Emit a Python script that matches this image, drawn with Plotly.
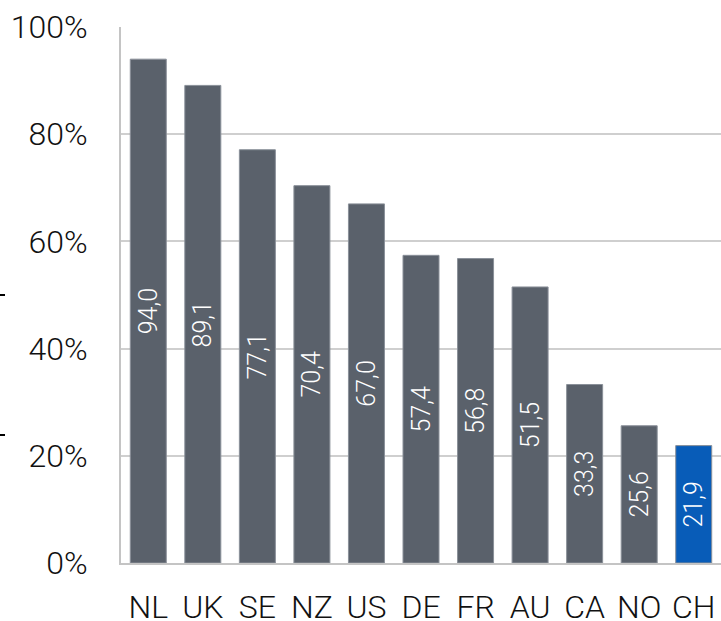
import plotly.graph_objects as go

countries = ["NL", "UK", "SE", "NZ", "US", "DE", "FR", "AU", "CA", "NO", "CH"]
values = [94.0, 89.1, 77.1, 70.4, 67.0, 57.4, 56.8, 51.5, 33.3, 25.6, 21.9]
tick_vals = [0, 20, 40, 60, 80, 100]
tick_text = ["0%", "20%", "40%", "60%", "80%", "100%"]

GRAY = "#5a616b"
BLUE = "#085cb8"
colors = [BLUE if c == "CH" else GRAY for c in countries]
labels = [f"{v:.1f}".replace(".", ",") for v in values]

FONT = "Roboto Light, Roboto"

fig = go.Figure(go.Bar(
    x=countries, y=values, text=labels,
    marker=dict(color=colors, line=dict(color="#8a9099", width=1)),
    textposition="inside", insidetextanchor="middle", textangle=-90,
    textfont=dict(family=FONT, size=25, color="white", weight=300),
    cliponaxis=False,
))

fig.update_layout(
    width=721, height=621,
    margin=dict(l=121, r=0, t=27, b=58),
    paper_bgcolor="white", plot_bgcolor="white",
    bargap=0.34,
    showlegend=False,
    font=dict(family=FONT, size=32, color="#222222", weight=300),
    xaxis=dict(
        showline=True, linecolor="#c4c4c4", linewidth=2,
        showgrid=False, ticks="", ticklabelstandoff=15, automargin=False,
        tickfont=dict(family=FONT, size=32, color="#111111", weight=300),
    ),
    yaxis=dict(
        range=[0, 100], tickvals=tick_vals, ticktext=tick_text,
        showline=True, linecolor="#c4c4c4", linewidth=2,
        showgrid=True, gridcolor="#cfcfcf", gridwidth=2,
        zeroline=False, ticks="", ticklabelstandoff=25, automargin=False,
        tickfont=dict(family=FONT, size=32, color="#111111", weight=300),
    ),
    shapes=[
        dict(type="line", xref="paper", yref="paper",
             x0=-121/600, x1=-116/600, y0=(563-295)/536, y1=(563-295)/536,
             line=dict(color="black", width=2)),
        dict(type="line", xref="paper", yref="paper",
             x0=-121/600, x1=-116/600, y0=(563-435)/536, y1=(563-435)/536,
             line=dict(color="black", width=2)),
    ],
)

fig.write_html(
    "out.html",
    config={"displayModeBar": False},
    post_script="document.body.style.margin='0';document.body.style.overflow='hidden';",
)
